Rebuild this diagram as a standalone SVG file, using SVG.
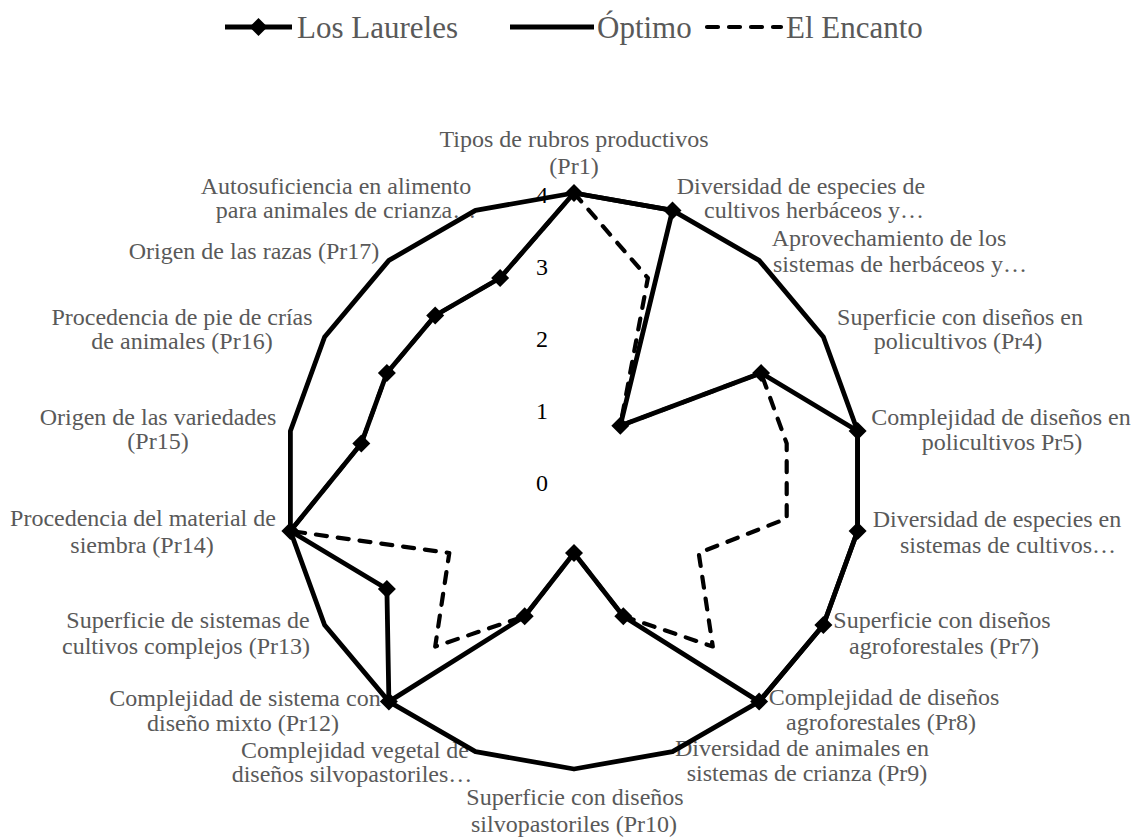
<svg xmlns="http://www.w3.org/2000/svg" width="1136" height="838" viewBox="0 0 1136 838">
<style>
text{font-family:"Liberation Serif","Times New Roman",serif}
.lbl{font-size:24px;fill:#595959;text-anchor:middle}
.num{font-size:24px;fill:#000;text-anchor:end}
.leg{font-size:31px;fill:#595959}
.s{fill:none;stroke:#000;stroke-width:4.8;stroke-linejoin:round}
.d{stroke-dasharray:11 11;stroke-linecap:round;stroke-width:4.2}
</style>
<defs>
<marker id="dia" markerUnits="userSpaceOnUse" markerWidth="20" markerHeight="20" refX="10" refY="10" viewBox="0 0 20 20" overflow="visible">
<path d="M10,1 L19,10 L10,19 L1,10Z" fill="#000"/>
</marker>
</defs>
<rect width="1136" height="838" fill="#fff"/>
<g id="axis">
<text class="num" x="548" y="491">0</text>
<text class="num" x="548" y="419">1</text>
<text class="num" x="548" y="347">2</text>
<text class="num" x="548" y="275">3</text>
<text class="num" x="548" y="203">4</text>
</g>
<g id="labels">
<g id="pr1"><text class="lbl" x="574" y="147">Tipos de rubros productivos</text><text class="lbl" x="574" y="174">(Pr1)</text></g>
<g id="pr2"><text class="lbl" x="801" y="194">Diversidad de especies de</text><text class="lbl" x="814" y="218">cultivos herbáceos y…</text></g>
<g id="pr3"><text class="lbl" x="889" y="246">Aprovechamiento de los</text><text class="lbl" x="900" y="272">sistemas de herbáceos y…</text></g>
<g id="pr4"><text class="lbl" x="960" y="325">Superficie con diseños en</text><text class="lbl" x="958" y="349">policultivos (Pr4)</text></g>
<g id="pr5"><text class="lbl" x="1001" y="425">Complejidad de diseños en</text><text class="lbl" x="1002" y="450">policultivos Pr5)</text></g>
<g id="pr6"><text class="lbl" x="997" y="527">Diversidad de especies en</text><text class="lbl" x="1008" y="553">sistemas de cultivos…</text></g>
<g id="pr7"><text class="lbl" x="942" y="628">Superficie con diseños</text><text class="lbl" x="944" y="654">agroforestales (Pr7)</text></g>
<g id="pr8"><text class="lbl" x="884" y="705">Complejidad de diseños</text><text class="lbl" x="881" y="730">agroforestales (Pr8)</text></g>
<g id="pr9"><text class="lbl" x="802" y="756">Diversidad de animales en</text><text class="lbl" x="807" y="781">sistemas de crianza (Pr9)</text></g>
<g id="pr10"><text class="lbl" x="575" y="805">Superficie con diseños</text><text class="lbl" x="574" y="832">silvopastoriles (Pr10)</text></g>
<g id="pr11"><text class="lbl" x="355" y="758">Complejidad vegetal de</text><text class="lbl" x="352" y="782">diseños silvopastoriles…</text></g>
<g id="pr12"><text class="lbl" x="245" y="706">Complejidad de sistema con</text><text class="lbl" x="243" y="731">diseño mixto (Pr12)</text></g>
<g id="pr13"><text class="lbl" x="188" y="628">Superficie de sistemas de</text><text class="lbl" x="186" y="654">cultivos complejos (Pr13)</text></g>
<g id="pr14"><text class="lbl" x="143" y="526">Procedencia del material de</text><text class="lbl" x="142" y="553">siembra (Pr14)</text></g>
<g id="pr15"><text class="lbl" x="158" y="425">Origen de las variedades</text><text class="lbl" x="158" y="449">(Pr15)</text></g>
<g id="pr16"><text class="lbl" x="182" y="325">Procedencia de pie de crías</text><text class="lbl" x="182" y="349">de animales (Pr16)</text></g>
<g id="pr17"><text class="lbl" x="254" y="259">Origen de las razas (Pr17)</text></g>
<g id="pr18"><text class="lbl" x="336" y="194">Autosuficiencia en alimento</text><text class="lbl" x="346" y="218">para animales de crianza…</text></g>
</g>
<g id="connectors">
<polygon id="laureles" class="s" marker-start="url(#dia)" marker-mid="url(#dia)" points="574,193 672.5,210.4 620.3,425.8 761.1,373 857.6,431 857.6,531 823.4,625 759.1,701.6 623.3,616.3 574,553 524.7,616.3 388.9,701.6 386.9,589 290.4,531 361.3,443.5 386.9,373 435.2,315.5 500.1,278"/>
<polygon id="optimo" class="s" points="574,193 672.5,210.4 759.1,260.4 823.4,337 857.6,431 857.6,531 823.4,625 759.1,701.6 672.5,751.6 574,769 475.5,751.6 388.9,701.6 324.6,625 290.4,531 290.4,431 324.6,337 388.9,260.4 475.5,210.4"/>
<polygon id="encanto" class="s d" points="574,193 647.9,278 620.3,425.8 761.1,373 786.7,443.5 786.7,518.5 698.7,553 712.8,646.5 623.3,616.3 574,553 524.7,616.3 435.2,646.5 449.3,553 290.4,531 361.3,443.5 386.9,373 435.2,315.5 500.1,278"/>
</g>
<g id="legend">
<g id="leg-laureles"><line x1="225" y1="27" x2="292" y2="27" class="s"/><path d="M258.5,18 L267.5,27 L258.5,36 L249.5,27Z"/><text class="leg" x="297" y="38">Los Laureles</text></g>
<g id="leg-optimo"><line x1="510" y1="27" x2="594" y2="27" class="s"/><text class="leg" x="597" y="38">Óptimo</text></g>
<g id="leg-encanto"><line x1="707" y1="27" x2="781" y2="27" class="s d"/><text class="leg" x="786" y="38">El Encanto</text></g>
</g>
</svg>
